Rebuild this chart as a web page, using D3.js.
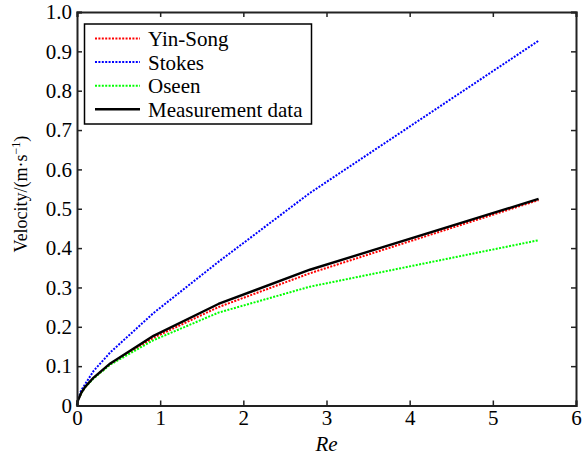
<!DOCTYPE html>
<html><head><meta charset="utf-8">
<script src="https://cdn.jsdelivr.net/npm/d3@7"></script>
</head><body style="margin:0;background:#fff">
<svg id="chart" width="582" height="460" font-family="Liberation Serif"></svg>
<script>
const reValues   = [0, 0.01, 0.05, 0.1, 0.2, 0.4, 0.92, 1.7, 2.8, 5.55];
const yinSong    = [0, 0.012, 0.031, 0.047, 0.07, 0.105, 0.172, 0.25, 0.336, 0.522];
const stokes     = [0, 0.014, 0.038, 0.055, 0.088, 0.135, 0.235, 0.365, 0.54, 0.927];
const oseen      = [0, 0.012, 0.031, 0.047, 0.069, 0.104, 0.166, 0.236, 0.302, 0.42];
const measured   = [0, 0.012, 0.032, 0.048, 0.071, 0.107, 0.177, 0.258, 0.345, 0.525];
const xTicks = [0,1,2,3,4,5,6];
const yTicks = [0,0.1,0.2,0.3,0.4,0.5,0.6,0.7,0.8,0.9,1.0];
const seriesNames = ["Yin-Song","Stokes","Oseen","Measurement data"];

const F = '"Liberation Serif"';
const svg = d3.select("#chart");
const m = {l:77, t:12, r:6, b:54.5};
const W = 582, H = 460;
const x = d3.scaleLinear().domain([0,6]).range([m.l, W-m.r]);
const y = d3.scaleLinear().domain([0,1]).range([H-m.b, m.t]);

const series = [
  {name:seriesNames[0], vals:yinSong, color:"#ff0000", dash:"2,1.4", w:2},
  {name:seriesNames[1], vals:stokes, color:"#0000ff", dash:"2,1.4", w:2},
  {name:seriesNames[2], vals:oseen, color:"#00ff00", dash:"2,1.4", w:2},
  {name:seriesNames[3], vals:measured, color:"#000000", dash:null, w:2.4}
];

const line = d3.line().x(d=>x(d[0])).y(d=>y(d[1]));
series.forEach(s=>{
  svg.append("path")
    .datum(reValues.map((r,j)=>[r,s.vals[j]]))
    .attr("d", line).attr("fill","none")
    .attr("stroke", s.color).attr("stroke-width", s.w)
    .attr("stroke-dasharray", s.dash)
    .attr("stroke-linejoin","round");
});

const tk = 5;
const axB = svg.append("g").attr("transform",`translate(0,${y(0)})`)
  .call(d3.axisBottom(x).tickValues(xTicks).tickSize(-tk).tickPadding(5).tickFormat(d3.format("d")));
const axT = svg.append("g").attr("transform",`translate(0,${y(1)})`)
  .call(d3.axisTop(x).tickValues(xTicks).tickSize(-tk).tickFormat(""));
const axL = svg.append("g").attr("transform",`translate(${x(0)},0)`)
  .call(d3.axisLeft(y).tickValues(yTicks).tickSize(-tk).tickPadding(5)
    .tickFormat(d=> d===0 ? "0" : d3.format(".1f")(d)));
const axR = svg.append("g").attr("transform",`translate(${x(6)},0)`)
  .call(d3.axisRight(y).tickValues(yTicks).tickSize(-tk).tickFormat(""));
[axB,axT,axL,axR].forEach(a=>{
  a.attr("font-family","Liberation Serif").attr("font-size",21);
  a.select(".domain").attr("stroke","#222").attr("stroke-width",2);
  a.selectAll(".tick line").attr("stroke","#222").attr("stroke-width",1.5);
  a.selectAll("text").style("font-family",F).attr("font-size",21).attr("fill","#000");
});

svg.append("text").attr("x", (x(0)+x(6))/2).attr("y", 451)
  .attr("text-anchor","middle").style("font-family",F).attr("font-size",21)
  .attr("font-style","italic").text("Re");
const yl = svg.append("text")
  .attr("transform",`translate(27,194) rotate(-90)`)
  .attr("text-anchor","middle").style("font-family",F).attr("font-size",18);
yl.append("tspan").text("Velocity/(m·s");
yl.append("tspan").attr("dy","-7").attr("font-size",12).text("−1");
yl.append("tspan").attr("dy","7").text(")");

const lg = svg.append("g");
lg.append("rect").attr("x",84.5).attr("y",24).attr("width",227).attr("height",100)
  .attr("fill","#fff").attr("stroke","#000").attr("stroke-width",1.5);
series.forEach((s,i)=>{
  const cy = 38.5 + i*23.6;
  lg.append("line").attr("x1",95).attr("x2",140).attr("y1",cy).attr("y2",cy)
    .attr("stroke",s.color).attr("stroke-width",s.w).attr("stroke-dasharray",s.dash);
  lg.append("text").attr("x",148).attr("y",cy+7.5).style("font-family",F)
    .attr("font-size",21).text(s.name);
});
</script>
</body></html>
